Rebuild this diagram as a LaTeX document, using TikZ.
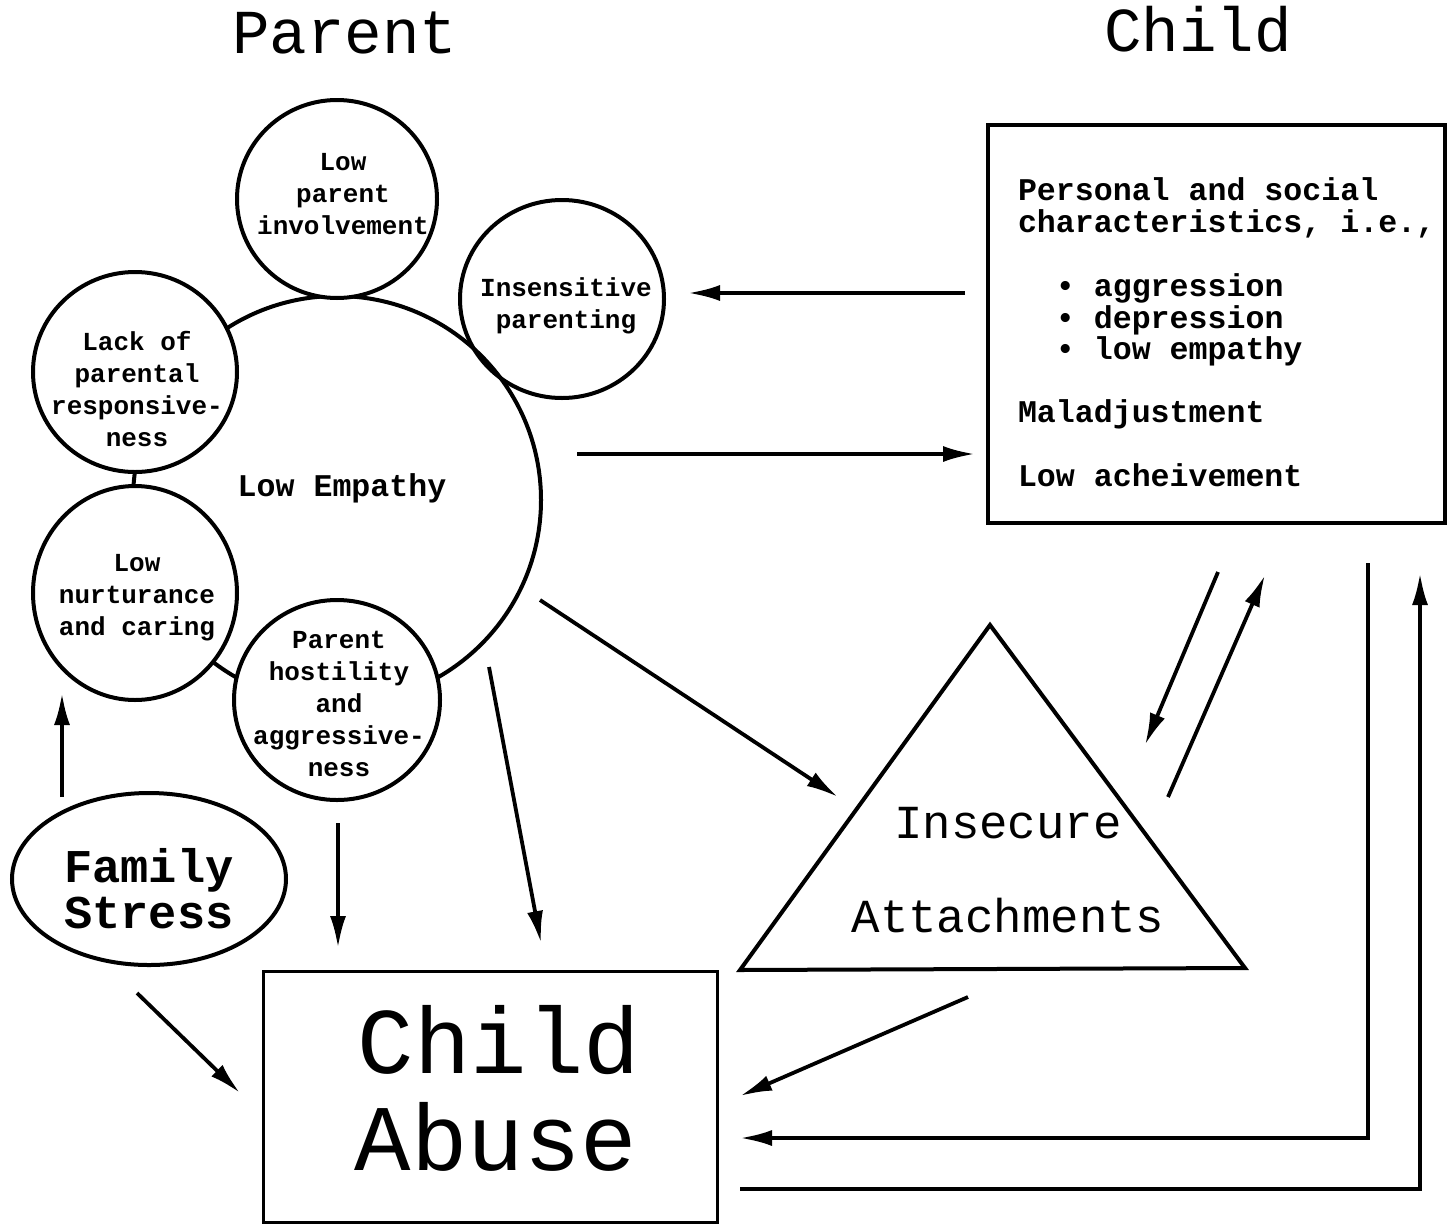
\documentclass[tikz,border=0pt]{standalone}
\usepackage{fontspec}
\setmainfont{Liberation Mono}
\usetikzlibrary{shapes.geometric,arrows.meta}
\begin{document}
\begin{tikzpicture}[x=0.5pt,y=-0.5pt,
  every node/.style={inner sep=0pt, outer sep=0pt},
  bub/.style={ellipse, draw, line width=2pt, fill=white},
  arr/.style={line width=1.9pt, -{Latex[length=16pt,width=8pt]}},
  sm/.style={font=\bfseries\fontsize{13}{16}\selectfont, align=center},
  cb/.style={font=\bfseries\fontsize{15.8}{16}\selectfont, anchor=base west},
  ttl/.style={font=\fontsize{31.25}{36}\selectfont, anchor=base},
  huge/.style={font=\fontsize{47}{50}\selectfont, anchor=base},
  mid/.style={font=\fontsize{23.7}{26}\selectfont, anchor=base},
  fsx/.style={font=\bfseries\fontsize{23.5}{26}\selectfont, anchor=base},
]
\useasboundingbox (0,0) rectangle (1449,1226);

% titles
\node[ttl] (tparent) at (345,54) {Parent};
\node[ttl] (tchild) at (1198,51) {Child};

% big circle
\node[circle, draw, line width=2pt, minimum size=204pt] (emp) at (337,500) {};
\node[font=\bfseries\fontsize{15.8}{16}\selectfont, anchor=base] (temp) at (342,496) {Low Empathy};

% small bubbles
\node[bub, minimum width=100pt, minimum height=99pt] (inv) at (337,199) {};
\node[ellipse, draw, line width=2pt, minimum width=102pt, minimum height=99pt] (ins) at (562,299) {};
\node[bub, minimum width=102pt, minimum height=100pt] (lack) at (135,372) {};
\node[bub, minimum width=102pt, minimum height=107pt] (nur) at (135,593) {};
\node[bub, minimum width=103pt, minimum height=100pt] (hos) at (337,700) {};

\node[sm] (tinv) at (343,194) {Low\\parent\\involvement};
\node[sm] (tins) at (566,306) {Insensitive\\parenting};
\node[sm] (tlack) at (137,389) {Lack of\\parental\\responsive-\\ness};
\node[sm] (tnur) at (137,598) {Low\\nurturance\\and caring};
\node[sm] (thos) at (339,704) {Parent\\hostility\\and\\aggressive-\\ness};

% family stress
\node[ellipse, draw, line width=2pt, minimum width=137pt, minimum height=86pt] (fs) at (149,879) {};
\node[fsx] (tfs1) at (149,882) {Family};
\node[fsx] (tfs2) at (149,928) {Stress};

% child box
\node[draw, line width=1.6pt, minimum width=228.5pt, minimum height=199pt] (cbox) at (1216.5,324) {};
\node[cb] (c1) at (1018,200) {Personal and social};
\node[cb] (c2) at (1018,232) {characteristics, i.e.,};
\node[cb] (c3) at (1018,296) {\hphantom{MM}•\hphantom{M}aggression};
\node[cb] (c4) at (1018,328) {\hphantom{MM}•\hphantom{M}depression};
\node[cb] (c5) at (1018,359) {\hphantom{MM}•\hphantom{M}low empathy};
\node[cb] (c6) at (1018,422) {Maladjustment};
\node[cb] (c7) at (1018,486) {Low acheivement};

% triangle
\coordinate (tA) at (990,625);
\coordinate (tB) at (1245,968);
\coordinate (tC) at (740,970);
\draw[line width=2pt, line join=miter] (tA) -- (tB) -- (tC) -- cycle;
\node[mid] (tri1) at (1008,838) {Insecure};
\node[mid] (tri2) at (1008,932) {Attachments};

% child abuse box
\node[draw, line width=1.5pt, minimum width=227pt, minimum height=125.5pt] (abuse) at (490,1096.5) {};
\node[huge] (ab1) at (499,1073) {Child};
\node[huge] (ab2) at (496,1170) {Abuse};

% arrows
\coordinate (a1s) at (62,797);   \coordinate (a1e) at (62,693);
\coordinate (a2s) at (338,823);  \coordinate (a2e) at (338,948);
\coordinate (a3s) at (489,667);  \coordinate (a3e) at (541,943);
\coordinate (a4s) at (540,600);  \coordinate (a4e) at (838,797);
\coordinate (a5s) at (577,454);  \coordinate (a5e) at (975,454);
\coordinate (a6s) at (965,293);  \coordinate (a6e) at (688,293);
\coordinate (a7s) at (137,993);  \coordinate (a7e) at (240,1093);
\coordinate (a8s) at (968,997);  \coordinate (a8e) at (740,1096);
\coordinate (a9s) at (1368,563); \coordinate (a9e) at (740,1138);
\coordinate (a10s) at (740,1189); \coordinate (a10e) at (1420,573);
\coordinate (a11s) at (1218,572); \coordinate (a11e) at (1145,745);
\coordinate (a12s) at (1168,797); \coordinate (a12e) at (1265,575);

\draw[arr] (a1s) -- (a1e);
\draw[arr] (a2s) -- (a2e);
\draw[arr] (a3s) -- (a3e);
\draw[arr] (a4s) -- (a4e);
\draw[arr] (a5s) -- (a5e);
\draw[arr] (a6s) -- (a6e);
\draw[arr] (a7s) -- (a7e);
\draw[arr] (a8s) -- (a8e);
\draw[arr] (a9s) |- (a9e);
\draw[arr] (a10s) -| (a10e);
\draw[arr] (a11s) -- (a11e);
\draw[arr] (a12s) -- (a12e);
\end{tikzpicture}
\end{document}
